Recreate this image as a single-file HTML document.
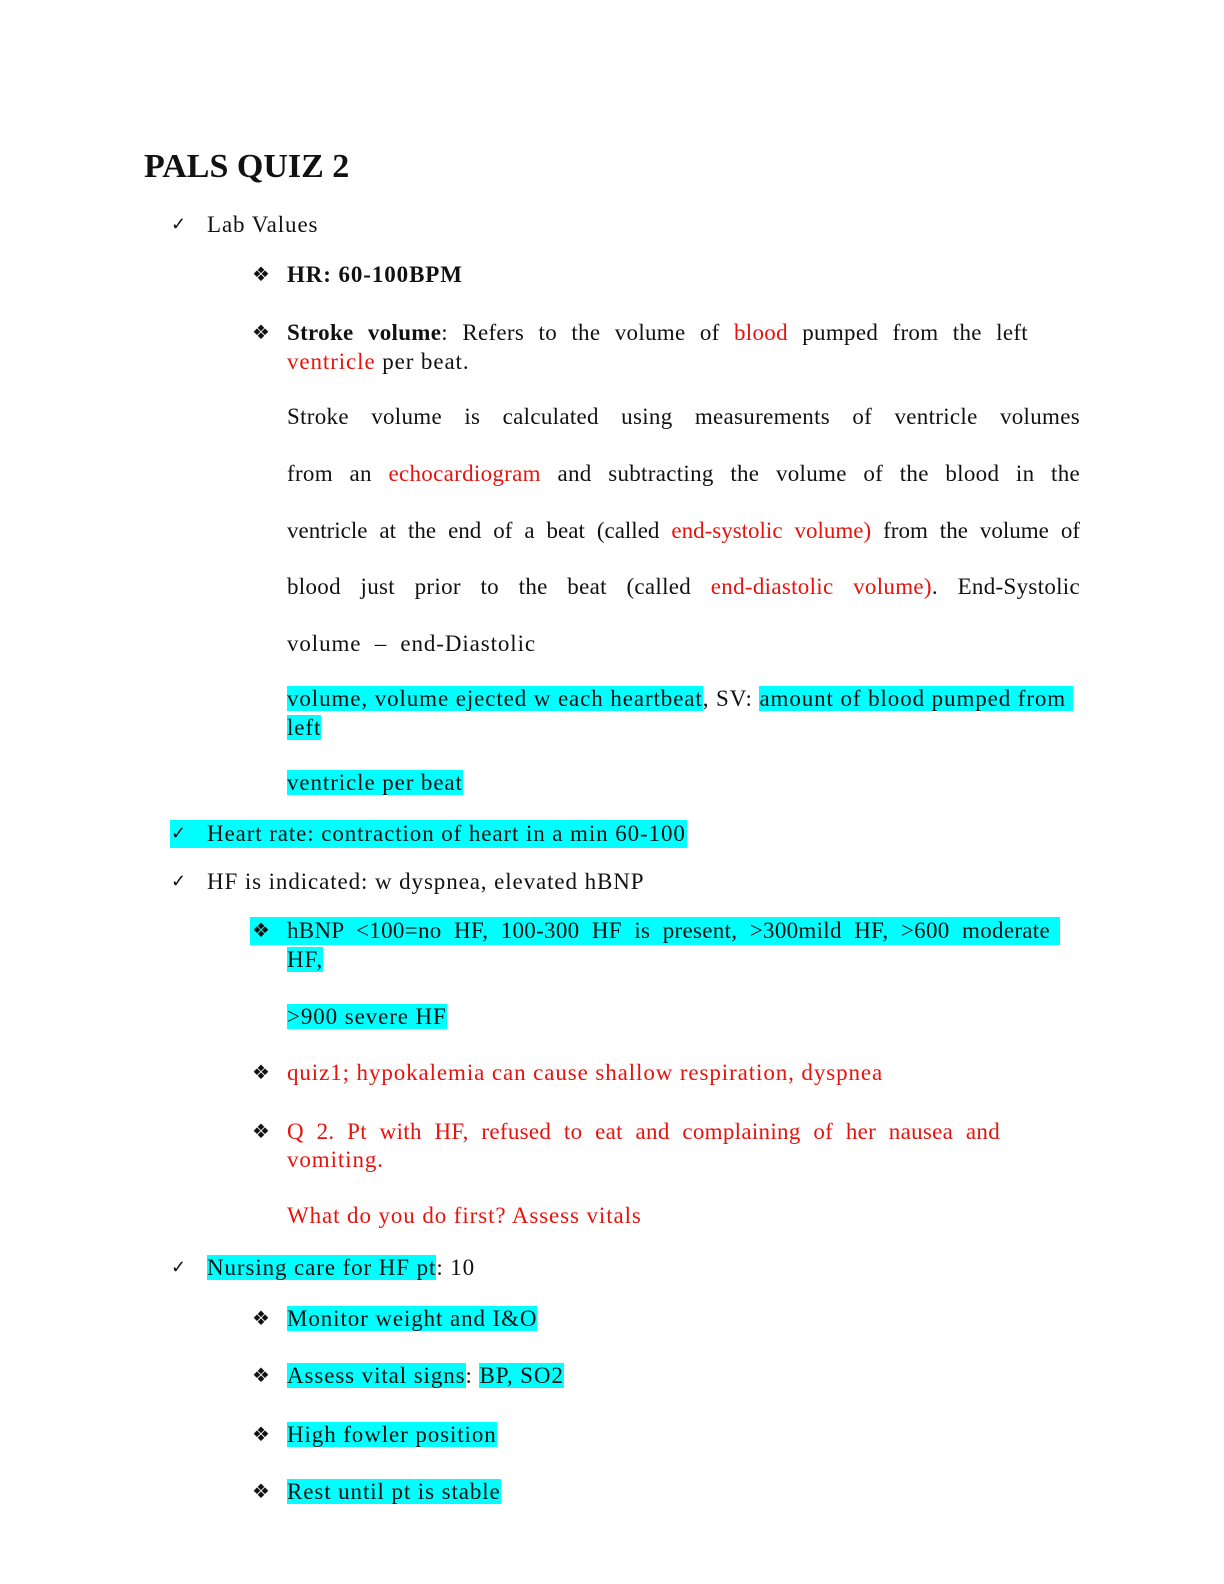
<!DOCTYPE html>
<html><head><meta charset="utf-8"><style>
html,body{margin:0;padding:0;background:#fff;}
body{width:1224px;height:1584px;position:relative;overflow:hidden;font-family:"Liberation Serif","DejaVu Serif",serif;font-size:23px;letter-spacing:0.9px;color:#111;}
.l{position:absolute;line-height:28px;white-space:nowrap;}
.j{position:absolute;left:287px;width:793px;line-height:28px;text-align:justify;text-align-last:justify;white-space:nowrap;letter-spacing:0.3px;}
.r{color:#e8120c;}
.h{background:#00ffff;}
.b{font-weight:bold;}
.ck{position:absolute;left:171px;font-size:18px;line-height:28px;letter-spacing:0;}
.dm{position:absolute;left:252px;font-size:20px;line-height:28px;letter-spacing:0;}
</style></head><body>
<div class="l b" style="left:144px;top:147px;font-size:34px;line-height:40px;letter-spacing:0;">PALS QUIZ 2</div>

<div class="ck" style="top:210px">✓</div>
<div class="l" style="left:207px;top:211px">Lab Values</div>

<div class="dm" style="top:261px">❖</div>
<div class="l b" style="left:287px;top:261px">HR: 60-100BPM</div>

<div class="dm" style="top:319px">❖</div>
<div class="j" style="top:319px;width:741px;white-space:normal"><b>Stroke volume</b>: Refers to the volume of <span class="r">blood</span> pumped from the left</div>
<div class="l" style="left:287px;top:348px"><span class="r">ventricle</span> per beat.</div>

<div class="j" style="top:403px;white-space:normal">Stroke volume is calculated using measurements of ventricle volumes</div>
<div class="j" style="top:460px;white-space:normal">from an <span class="r">echocardiogram</span> and subtracting the volume of the blood in the</div>
<div class="j" style="top:517px;white-space:normal;letter-spacing:0">ventricle at the end of a beat (called <span class="r">end-systolic volume)</span> from the volume of</div>
<div class="j" style="top:573px;white-space:normal">blood just prior to the beat (called <span class="r">end-diastolic volume)</span>. End-Systolic</div>
<div class="l" style="left:287px;top:630px">volume &nbsp;– &nbsp;end-Diastolic</div>

<div class="l" style="left:287px;top:685px"><span class="h">volume, volume ejected w each heartbeat</span>, SV: <span class="h">amount of blood pumped from&nbsp;</span></div>
<div class="l" style="left:287px;top:714px"><span class="h">left</span></div>
<div class="l" style="left:287px;top:769px"><span class="h">ventricle per beat</span></div>

<div class="l h" style="left:170px;top:820px;width:517px;">&nbsp;</div>
<div class="ck" style="top:819px">✓</div>
<div class="l" style="left:207px;top:820px">Heart rate: contraction of heart in a min 60-100</div>

<div class="ck" style="top:867px">✓</div>
<div class="l" style="left:207px;top:868px">HF is indicated: w dyspnea, elevated hBNP</div>

<div class="l h" style="left:250px;top:917px;width:810px;">&nbsp;</div>
<div class="dm" style="top:917px">❖</div>
<div class="j" style="top:917px;width:763px;white-space:normal">hBNP &lt;100=no HF, 100-300 HF is present, &gt;300mild HF, &gt;600 moderate</div>
<div class="l" style="left:287px;top:946px"><span class="h">HF,</span></div>
<div class="l" style="left:287px;top:1003px"><span class="h">&gt;900 severe HF</span></div>

<div class="dm" style="top:1059px">❖</div>
<div class="l r" style="left:287px;top:1059px">quiz1; hypokalemia can cause shallow respiration, dyspnea</div>

<div class="dm" style="top:1118px">❖</div>
<div class="j r" style="top:1118px;width:713px;white-space:normal">Q 2. Pt with HF, refused to eat and complaining of her nausea and</div>
<div class="l r" style="left:287px;top:1146px">vomiting.</div>
<div class="l r" style="left:287px;top:1202px">What do you do first? Assess vitals</div>

<div class="ck" style="top:1253px">✓</div>
<div class="l" style="left:207px;top:1254px"><span class="h">Nursing care for HF pt</span>: 10</div>

<div class="dm" style="top:1305px">❖</div>
<div class="l" style="left:287px;top:1305px"><span class="h">Monitor weight and I&amp;O</span></div>
<div class="dm" style="top:1362px">❖</div>
<div class="l" style="left:287px;top:1362px"><span class="h">Assess vital signs</span>: <span class="h">BP, SO2</span></div>
<div class="dm" style="top:1421px">❖</div>
<div class="l" style="left:287px;top:1421px"><span class="h">High fowler position</span></div>
<div class="dm" style="top:1478px">❖</div>
<div class="l" style="left:287px;top:1478px"><span class="h">Rest until pt is stable</span></div>
</body></html>
